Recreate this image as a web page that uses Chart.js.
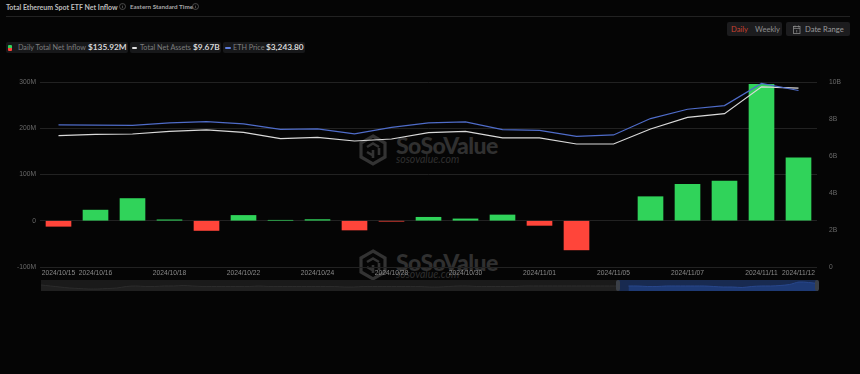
<!DOCTYPE html>
<html>
<head>
<meta charset="utf-8">
<script src="https://cdn.jsdelivr.net/npm/chart.js@4"></script>
<style>
html,body{margin:0;padding:0;background:#050505;width:860px;height:374px;overflow:hidden;font-family:Lato,sans-serif}
.abs{position:absolute;white-space:nowrap}
.pill{position:absolute;top:42px;height:11px;background:#17181a;border-radius:2px}
.lab{position:absolute;top:42px;font-size:7.2px;line-height:11px;color:#7d7d7d;white-space:nowrap}
.val{position:absolute;top:42px;font-size:8.3px;line-height:11px;font-weight:700;color:#d6d6d6;white-space:nowrap}
.key{position:absolute;border-radius:1px}
.wm{position:absolute;color:#303030}
</style>
</head>
<body>
<div class="abs" style="left:6px;top:1px;font-size:7px;line-height:12px;font-weight:700;color:#bdbdbd">Total Ethereum Spot ETF Net Inflow</div>
<svg class="abs" style="left:119px;top:3px" width="8" height="8"><circle cx="3.5" cy="3.5" r="3" fill="none" stroke="#666" stroke-width=".7"/><path d="M3.5 3v2.2M3.5 1.8v.6" stroke="#666" stroke-width=".7"/></svg>
<div class="abs" style="left:130px;top:1px;font-size:6.3px;line-height:12px;font-weight:700;color:#a8a8a8">Eastern Standard Time</div>
<svg class="abs" style="left:192px;top:3px" width="8" height="8"><circle cx="3.5" cy="3.5" r="3" fill="none" stroke="#666" stroke-width=".7"/><path d="M3.5 3v2.2M3.5 1.8v.6" stroke="#666" stroke-width=".7"/></svg>
<div class="abs" style="left:6px;top:16px;width:844px;height:1px;background:#222"></div>

<div class="pill" style="left:6px;width:122px"></div>
<div class="key" style="left:8px;top:45px;width:4px;height:6px;background:linear-gradient(#30d35a 50%,#ff453a 50%)"></div>
<div class="lab" style="left:18px">Daily Total Net Inflow</div><div class="val" style="left:88px">$135.92M</div>
<div class="pill" style="left:130px;width:91px"></div>
<div class="key" style="left:132px;top:47px;width:5px;height:2px;background:#e0e0e0"></div>
<div class="lab" style="left:140px">Total Net Assets</div><div class="val" style="left:193px">$9.67B</div>
<div class="pill" style="left:223px;width:82px"></div>
<div class="key" style="left:225px;top:47px;width:6px;height:2px;background:#5f7fe0"></div>
<div class="lab" style="left:233px">ETH Price</div><div class="val" style="left:266px">$3,243.80</div>

<div class="abs" style="left:727px;top:22px;width:55px;height:14px;background:#1c1c1e;border-radius:2px;font-size:7.6px;line-height:14px;color:#8e8e8e"><span style="color:#c8402f;margin-left:4px">Daily</span><span style="margin-left:7px">Weekly</span></div>
<div class="abs" style="left:786px;top:22px;width:64px;height:14px;background:#1c1c1e;border-radius:2px;font-size:7.6px;line-height:14px;color:#9a9a9a"><svg style="position:absolute;left:7px;top:3px" width="8" height="9"><rect x=".5" y="1.5" width="6.5" height="7" fill="none" stroke="#8a8a8a" stroke-width=".8"/><path d="M.5 3.5h6.5M2 .5v2M5.5 .5v2M3.7 5v2.5" stroke="#8a8a8a" stroke-width=".7"/></svg><span style="margin-left:19px">Date Range</span></div>

<!-- watermarks sit under the canvas -->
<svg class="abs" style="left:358px;top:134px" width="30" height="32" viewBox="0 0 30 32"><path d="M15 2L27 9V23L15 30L3 23V9Z" fill="none" stroke="#333" stroke-width="3.2"/><path d="M9 13L15 9.500L21 13M15 16V24M9 18L15 21.500M21 14V21" fill="none" stroke="#333" stroke-width="2.600"/></svg>
<div class="abs wm" style="left:396px;top:133px;font-size:23px;line-height:24px;font-weight:900;letter-spacing:-.6px">SoSoValue</div>
<div class="abs wm" style="left:396px;top:153px;font-size:10.500px;line-height:13px;font-style:italic">sosovalue.com</div>
<svg class="abs" style="left:358px;top:249px" width="30" height="32" viewBox="0 0 30 32"><path d="M15 2L27 9V23L15 30L3 23V9Z" fill="none" stroke="#333" stroke-width="3.2"/><path d="M9 13L15 9.500L21 13M15 16V24M9 18L15 21.500M21 14V21" fill="none" stroke="#333" stroke-width="2.600"/></svg>
<div class="abs wm" style="left:396px;top:250px;font-size:23px;line-height:24px;font-weight:900;letter-spacing:-.6px">SoSoValue</div>
<div class="abs wm" style="left:396px;top:268px;font-size:10.500px;line-height:13px;font-style:italic">sosovalue.com</div>

<div class="abs" style="left:41px;top:280px;width:777px;height:11px;background:#1a1a1a"></div>
<div class="abs" style="left:618px;top:280px;width:199px;height:11px;background:#182a50"></div>

<canvas id="nav" class="abs" style="left:41px;top:280px" width="777" height="11"></canvas>
<canvas id="main" class="abs" style="left:0;top:0" width="860" height="374"></canvas>

<div class="abs" style="left:616px;top:280px;width:4px;height:11px;background:#3a3f47;border-radius:2px"></div>
<div class="abs" style="left:815px;top:280px;width:4px;height:11px;background:#3a3f47;border-radius:2px"></div>

<script>
var dates = ["2024/10/15","2024/10/16","2024/10/17","2024/10/18","2024/10/21","2024/10/22","2024/10/23","2024/10/24","2024/10/25","2024/10/28","2024/10/29","2024/10/30","2024/10/31","2024/11/01","2024/11/04","2024/11/05","2024/11/06","2024/11/07","2024/11/08","2024/11/11","2024/11/12"];
var shownDates = ["2024/10/15","2024/10/16","2024/10/18","2024/10/22","2024/10/24","2024/10/28","2024/10/30","2024/11/01","2024/11/05","2024/11/07","2024/11/11","2024/11/12"];
var netInflow = [-12,23,48,2,-21,11.5,1,2.5,-20,-1,7.5,4,12.5,-10,-63,null,52,79,86,295,135.92];
var netAssets = [7.10,7.17,7.19,7.33,7.41,7.28,6.94,7.01,6.81,6.92,7.26,7.33,6.98,6.98,6.65,6.65,7.46,8.09,8.29,9.74,9.67];
var ethPrice = [2612,2608,2604,2648,2672,2630,2530,2538,2446,2567,2648,2667,2525,2512,2401,2427,2728,2899,2967,3373,3243.8];
var leftTicks = [-100,0,100,200,300];

// overview strip, rough heights
var navGrey = [6,5,4,3,2.5,2,2,2.5,3,4.5,5,4.5,4.5,5,5,5.5,5,4.5,4.5,4.5,4.5,4.5,4.5,5,4.5,4.5,4.5,4.5,4.5,4.5,4.5,4.5,4,4,4.5,4.5,4.5,4.5,4.5,4.5,4.5,4,4,4.5,5,5,4.5,4.5,4.5,4.5,4.5,5,5,5,5,5,5,5,5,5,5,5];
var navBlue = [5,5,4.5,4.5,5,5,5,5,5,4.5,4,4,3.5,4.5,5,5,5.5,6.5,9,8.5,7.5];

var navLabels = [];
var navGreyFull = [];
var navBlueFull = [];
var navCount = navGrey.length + navBlue.length;
for (var i = 0; i < navCount; i++) {
  navLabels.push(i);
  navGreyFull.push(i < navGrey.length ? navGrey[i] : null);
  navBlueFull.push(i >= navGrey.length ? navBlue[i - navGrey.length] : null);
}

new Chart(document.getElementById("nav").getContext("2d"), {
  type: "line",
  data: {
    labels: navLabels,
    datasets: [
      {data: navGreyFull, borderColor: "#2c2c2c", backgroundColor: "#202020", borderWidth: 1, fill: "origin", pointRadius: 0, tension: 0.3},
      {data: navBlueFull, borderColor: "#28478c", backgroundColor: "#1e3a75", borderWidth: 1, fill: "origin", pointRadius: 0, tension: 0.3}
    ]
  },
  options: {
    responsive: false,
    animation: false,
    layout: {padding: 0},
    plugins: {legend: {display: false}, tooltip: {enabled: false}},
    scales: {
      x: {display: false, offset: false},
      y: {display: false, min: 0, max: 11}
    }
  }
});

new Chart(document.getElementById("main").getContext("2d"), {
  type: "bar",
  data: {
    labels: dates,
    datasets: [
      {
        label: "Daily Total Net Inflow",
        data: netInflow,
        yAxisID: "y",
        order: 3,
        barThickness: 25,
        backgroundColor: function(c) { return c.raw < 0 ? "#ff453a" : "#30d35a"; }
      },
      {
        type: "line",
        label: "Total Net Assets",
        data: netAssets,
        yAxisID: "y1",
        order: 2,
        borderColor: "#d9d9d9",
        borderWidth: 1.2,
        pointRadius: 0,
        tension: 0
      },
      {
        type: "line",
        label: "ETH Price",
        data: ethPrice,
        yAxisID: "y2",
        order: 1,
        borderColor: "#4f6cc9",
        borderWidth: 1.2,
        pointRadius: 0,
        tension: 0
      }
    ]
  },
  options: {
    responsive: false,
    animation: false,
    layout: {padding: {top: 82, bottom: 95, left: 0, right: 0}},
    plugins: {legend: {display: false}, tooltip: {enabled: false}},
    scales: {
      x: {
        afterFit: function(s) { s.height = 12; },
        grid: {display: false, drawTicks: false},
        border: {display: false},
        ticks: {
          autoSkip: false,
          maxRotation: 0,
          padding: 2,
          color: "#8a8a8a",
          font: {family: "Liberation Sans", size: 6.7},
          callback: function(v) {
            var d = this.getLabelForValue(v);
            return shownDates.indexOf(d) >= 0 ? d : "";
          }
        }
      },
      y: {
        position: "left",
        min: -100,
        max: 300,
        afterBuildTicks: function(s) { s.ticks = leftTicks.map(function(v) { return {value: v}; }); },
        afterFit: function(s) { s.width = 40; },
        grid: {color: "#222222", lineWidth: 1, drawTicks: false},
        border: {display: false},
        ticks: {
          padding: 4,
          color: "#6a6a6a",
          font: {family: "Liberation Sans", size: 6.7},
          callback: function(v) { return v === 0 ? "0" : v + "M"; }
        }
      },
      y1: {
        position: "right",
        min: 0,
        max: 10,
        afterFit: function(s) { s.width = 43; },
        grid: {display: false},
        border: {display: false},
        ticks: {
          stepSize: 2,
          padding: 4,
          color: "#6a6a6a",
          font: {family: "Liberation Sans", size: 6.7},
          callback: function(v) { return v === 0 ? "0" : v + "B"; }
        }
      },
      y2: {display: false, min: 0, max: 3400}
    }
  }
});
</script>
</body>
</html>
